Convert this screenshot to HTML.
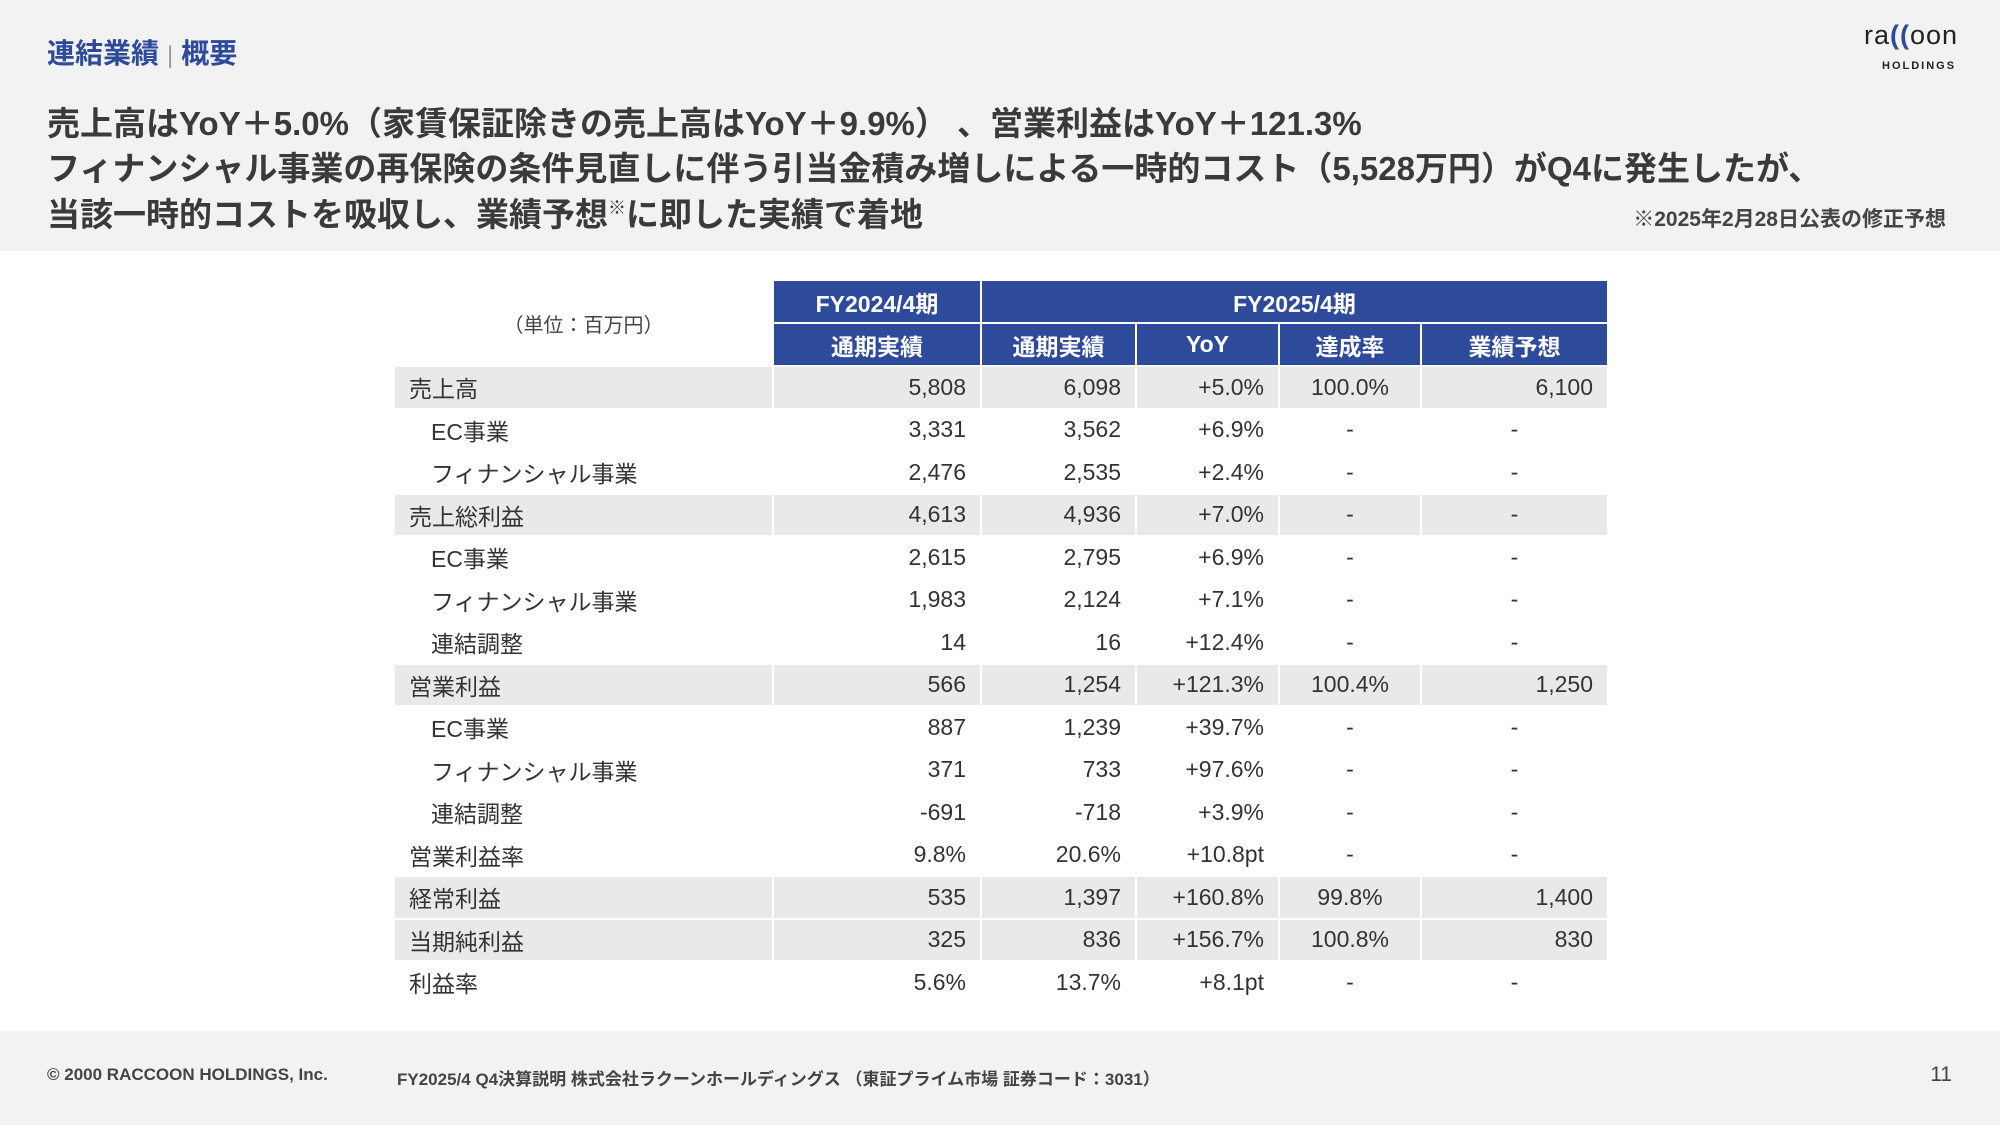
<!DOCTYPE html><html><head><meta charset="utf-8"><style>
*{margin:0;padding:0;box-sizing:border-box}
body{width:2000px;height:1125px;background:#fff;font-family:"Liberation Sans","Noto Sans CJK JP",sans-serif;color:#333;position:relative;overflow:hidden}
.top{position:absolute;left:0;top:0;width:2000px;height:251px;background:#f2f2f2}
.foot{position:absolute;left:0;top:1031px;width:2000px;height:94px;background:#f2f2f2;font-size:17px;color:#444;font-weight:bold}
.t1{position:absolute;left:47px;top:32px;font-size:28px;font-weight:bold;color:#2e4a9b}
.h{position:absolute;left:47px;font-size:33px;font-weight:bold;color:#3a3a3a;white-space:nowrap}
.note{position:absolute;right:54px;top:203px;font-size:21px;font-weight:bold;color:#444}
table{position:absolute;left:393px;top:279px;border-collapse:collapse;font-size:23px}
td{height:42.5px;padding:0 14px;border:2px solid #fff;white-space:nowrap}
td.n{text-align:right}td.c{text-align:center}
.hd td{background:#2e4a9b;color:#fff;text-align:center;font-weight:bold;height:43px}
tr.g td{background:#e9e9e9}
td.l{padding-left:14px}td.s{padding-left:36px}
</style></head><body>
<div class="top"></div>
<div class="t1">連結業績<span style="color:#999;font-weight:normal;font-size:24px;margin:0 8px">|</span>概要</div>
<div style="position:absolute;left:1864px;top:20px;font-size:27px;letter-spacing:1px;color:#222">ra<span style="color:#2e4a9b;font-weight:bold">((</span>oon</div>
<div style="position:absolute;left:1882px;top:60px;font-size:11px;font-weight:bold;letter-spacing:2px;color:#222">HOLDINGS</div>
<div class="h" style="top:97px">売上高はYoY＋5.0%（家賃保証除きの売上高はYoY＋9.9%） 、営業利益はYoY＋121.3%</div>
<div class="h" style="top:142px">フィナンシャル事業の再保険の条件見直しに伴う引当金積み増しによる一時的コスト（5,528万円）がQ4に発生したが、</div>
<div class="h" style="top:188px">当該一時的コストを吸収し、業績予想<sup style="font-size:18px">※</sup>に即した実績で着地</div>
<div class="note">※2025年2月28日公表の修正予想</div>
<table>
<tr class="hd"><td rowspan="2" style="background:#fff;color:#444;font-weight:normal;font-size:20px;width:379px">（単位：百万円）</td><td style="width:208px">FY2024/4期</td><td colspan="4">FY2025/4期</td></tr>
<tr class="hd"><td>通期実績</td><td style="width:155px">通期実績</td><td style="width:143px">YoY</td><td style="width:142px">達成率</td><td style="width:187px">業績予想</td></tr>
<tr class="g"><td class="l">売上高</td><td class="n">5,808</td><td class="n">6,098</td><td class="n">+5.0%</td><td class="c">100.0%</td><td class="n">6,100</td></tr>
<tr><td class="s">EC事業</td><td class="n">3,331</td><td class="n">3,562</td><td class="n">+6.9%</td><td class="c">-</td><td class="c">-</td></tr>
<tr><td class="s">フィナンシャル事業</td><td class="n">2,476</td><td class="n">2,535</td><td class="n">+2.4%</td><td class="c">-</td><td class="c">-</td></tr>
<tr class="g"><td class="l">売上総利益</td><td class="n">4,613</td><td class="n">4,936</td><td class="n">+7.0%</td><td class="c">-</td><td class="c">-</td></tr>
<tr><td class="s">EC事業</td><td class="n">2,615</td><td class="n">2,795</td><td class="n">+6.9%</td><td class="c">-</td><td class="c">-</td></tr>
<tr><td class="s">フィナンシャル事業</td><td class="n">1,983</td><td class="n">2,124</td><td class="n">+7.1%</td><td class="c">-</td><td class="c">-</td></tr>
<tr><td class="s">連結調整</td><td class="n">14</td><td class="n">16</td><td class="n">+12.4%</td><td class="c">-</td><td class="c">-</td></tr>
<tr class="g"><td class="l">営業利益</td><td class="n">566</td><td class="n">1,254</td><td class="n">+121.3%</td><td class="c">100.4%</td><td class="n">1,250</td></tr>
<tr><td class="s">EC事業</td><td class="n">887</td><td class="n">1,239</td><td class="n">+39.7%</td><td class="c">-</td><td class="c">-</td></tr>
<tr><td class="s">フィナンシャル事業</td><td class="n">371</td><td class="n">733</td><td class="n">+97.6%</td><td class="c">-</td><td class="c">-</td></tr>
<tr><td class="s">連結調整</td><td class="n">-691</td><td class="n">-718</td><td class="n">+3.9%</td><td class="c">-</td><td class="c">-</td></tr>
<tr><td class="l">営業利益率</td><td class="n">9.8%</td><td class="n">20.6%</td><td class="n">+10.8pt</td><td class="c">-</td><td class="c">-</td></tr>
<tr class="g"><td class="l">経常利益</td><td class="n">535</td><td class="n">1,397</td><td class="n">+160.8%</td><td class="c">99.8%</td><td class="n">1,400</td></tr>
<tr class="g"><td class="l">当期純利益</td><td class="n">325</td><td class="n">836</td><td class="n">+156.7%</td><td class="c">100.8%</td><td class="n">830</td></tr>
<tr><td class="l">利益率</td><td class="n">5.6%</td><td class="n">13.7%</td><td class="n">+8.1pt</td><td class="c">-</td><td class="c">-</td></tr>
</table>
<div class="foot">
<div style="position:absolute;left:47px;top:34px">© 2000 RACCOON HOLDINGS, Inc.</div>
<div style="position:absolute;left:397px;top:34px">FY2025/4 Q4決算説明 株式会社ラクーンホールディングス （東証プライム市場 証券コード：3031）</div>
<div style="position:absolute;right:48px;top:32px;font-size:21px;font-weight:normal">11</div>
</div>
</body></html>
